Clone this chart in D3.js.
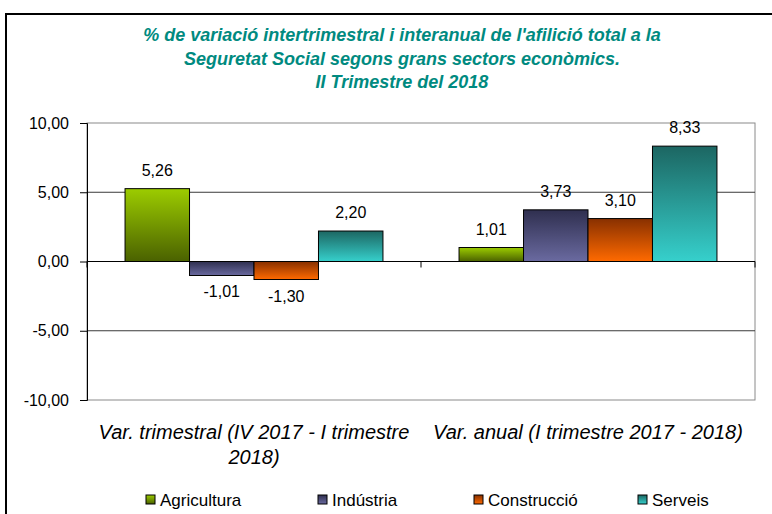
<!DOCTYPE html>
<html>
<head>
<meta charset="utf-8">
<script src="https://cdn.jsdelivr.net/npm/d3@7"></script>
<style>
  body { margin: 0; background: #fff; }
  svg { display: block; font-family: "Liberation Sans", Arial, sans-serif; }
</style>
</head>
<body>
<div id="chart"></div>
<script>
// Data
const titleLines = [
  "% de variació intertrimestral i interanual de l'afilició total a la",
  "Seguretat Social segons grans sectors econòmics.",
  "II Trimestre del 2018"
];
const groups = ["trimestral", "anual"];
const groupLabels = [
  ["Var. trimestral (IV 2017 - I trimestre", "2018)"],
  ["Var. anual (I trimestre 2017 - 2018)"]
];
const sectors = ["Agricultura", "Indústria", "Construcció", "Serveis"];
const trimestral = [5.26, -1.01, -1.30, 2.20];
const anual = [1.01, 3.73, 3.10, 8.33];
const yTicks = [-10, -5, 0, 5, 10];

// gradient colours per sector (top, bottom)
const sectorColors = [
  ["#9ccc00", "#4a6100"],
  ["#2f2f4f", "#6a6aa0"],
  ["#883000", "#ff6a00"],
  ["#1c6662", "#36d0cc"]
];

const width = 772;
const height = 514;
const margin = {top: 123, right: 17, bottom: 114, left: 87};
const innerWidth = width - margin.left - margin.right;
const innerHeight = height - margin.top - margin.bottom;

const locale = d3.formatLocale({decimal: ",", thousands: ".", grouping: [3], currency: ["", "€"], minus: "-"});
const fmt = locale.format(".2f");

const svg = d3.select("#chart")
  .append("svg")
    .attr("width", width)
    .attr("height", height);

// outer frame: only the left and top edges are visible in the picture
svg.append("path")
  .attr("d", `M6,${height} V14 H${width}`)
  .attr("fill", "none")
  .attr("stroke", "#000")
  .attr("stroke-width", 2);

// gradients
const defs = svg.append("defs");
sectors.forEach((s, i) => {
  const g = defs.append("linearGradient")
    .attr("id", `grad-${i}`)
    .attr("x1", 0).attr("y1", 0).attr("x2", 0).attr("y2", 1);
  g.append("stop").attr("offset", "0%").attr("stop-color", sectorColors[i][0]);
  g.append("stop").attr("offset", "100%").attr("stop-color", sectorColors[i][1]);
});

// title
svg.append("g")
  .selectAll("text")
  .data(titleLines)
  .join("text")
    .attr("x", 402)
    .attr("y", (d, i) => 41 + i * 23.5)
    .attr("text-anchor", "middle")
    .attr("fill", "#008a80")
    .attr("font-size", 18)
    .attr("font-weight", "bold")
    .attr("font-style", "italic")
    .text(d => d);

const innerChart = svg.append("g")
  .attr("transform", `translate(${margin.left}, ${margin.top})`);

// scales
const xScale = d3.scaleBand()
  .domain(groups)
  .range([0, innerWidth]);

const xSector = d3.scaleBand()
  .domain(sectors)
  .range([0, xScale.bandwidth()])
  .paddingOuter(0.59);

const yScale = d3.scaleLinear()
  .domain([-10, 10])
  .range([innerHeight, 0]);

// plot border (grey)
innerChart.append("rect")
  .attr("width", innerWidth)
  .attr("height", innerHeight)
  .attr("fill", "none")
  .attr("stroke", "#8a8a8a");

// gridlines
innerChart.append("g")
  .selectAll("line")
  .data(yTicks.filter(t => t !== 10 && t !== -10 && t !== 0))
  .join("line")
    .attr("x1", 0).attr("x2", innerWidth)
    .attr("y1", d => yScale(d)).attr("y2", d => yScale(d))
    .attr("stroke", "#3a3a3a");

// y axis
const leftAxis = d3.axisLeft(yScale)
  .tickValues(yTicks)
  .tickSize(7)
  .tickPadding(11)
  .tickFormat(fmt);
const yAxis = innerChart.append("g").call(leftAxis);
yAxis.selectAll("text")
  .attr("font-size", 16)
  .attr("font-family", "Liberation Sans, Arial, sans-serif")
  .attr("fill", "#000");
yAxis.select(".domain").attr("stroke", "#000");
yAxis.selectAll(".tick line").attr("stroke", "#000");

// bars
const series = [trimestral, anual];
groups.forEach((g, gi) => {
  const barGroup = innerChart.append("g")
    .attr("transform", `translate(${xScale(g)}, 0)`);
  const values = sectors.map((s, i) => ({sector: s, i, value: series[gi][i]}));

  barGroup.selectAll("rect")
    .data(values)
    .join("rect")
      .attr("x", d => xSector(d.sector))
      .attr("y", d => yScale(Math.max(0, d.value)))
      .attr("width", xSector.bandwidth())
      .attr("height", d => Math.abs(yScale(d.value) - yScale(0)))
      .attr("fill", d => `url(#grad-${d.i})`)
      .attr("stroke", "#000")
      .attr("stroke-width", 1);

  barGroup.selectAll("text")
    .data(values)
    .join("text")
      .attr("x", d => xSector(d.sector) + xSector.bandwidth() / 2)
      .attr("y", d => d.value >= 0 ? yScale(d.value) - 13 : yScale(d.value) + 22)
      .attr("text-anchor", "middle")
      .attr("font-size", 16)
      .attr("fill", "#000")
      .text(d => fmt(d.value));
});

// zero line and category ticks
innerChart.append("line")
  .attr("x1", 0).attr("x2", innerWidth)
  .attr("y1", yScale(0)).attr("y2", yScale(0))
  .attr("stroke", "#000");
innerChart.append("g")
  .selectAll("line")
  .data([...groups.map(g => xScale(g)), xScale.range()[1]])
  .join("line")
    .attr("x1", d => d).attr("x2", d => d)
    .attr("y1", yScale(0)).attr("y2", yScale(0) + 6)
    .attr("stroke", "#000");

// category labels
groups.forEach((g, gi) => {
  innerChart.append("g")
    .selectAll("text")
    .data(groupLabels[gi])
    .join("text")
      .attr("x", xScale(g) + xScale.bandwidth() / 2)
      .attr("y", (d, i) => innerHeight + 39 + i * 25)
      .attr("text-anchor", "middle")
      .attr("font-size", 20)
      .attr("font-style", "italic")
      .attr("fill", "#000")
      .text(d => d);
});

// legend
const legendX = [146, 318, 474, 638];
const legend = svg.append("g")
  .selectAll("g")
  .data(sectors)
  .join("g")
    .attr("transform", (d, i) => `translate(${legendX[i]}, 495)`);
legend.append("rect")
  .attr("width", 9).attr("height", 9)
  .attr("fill", (d, i) => `url(#grad-${i})`)
  .attr("stroke", "#000");
legend.append("text")
  .attr("x", 14)
  .attr("y", 10.5)
  .attr("font-size", 17)
  .attr("fill", "#000")
  .text(d => d);
</script>
</body>
</html>
